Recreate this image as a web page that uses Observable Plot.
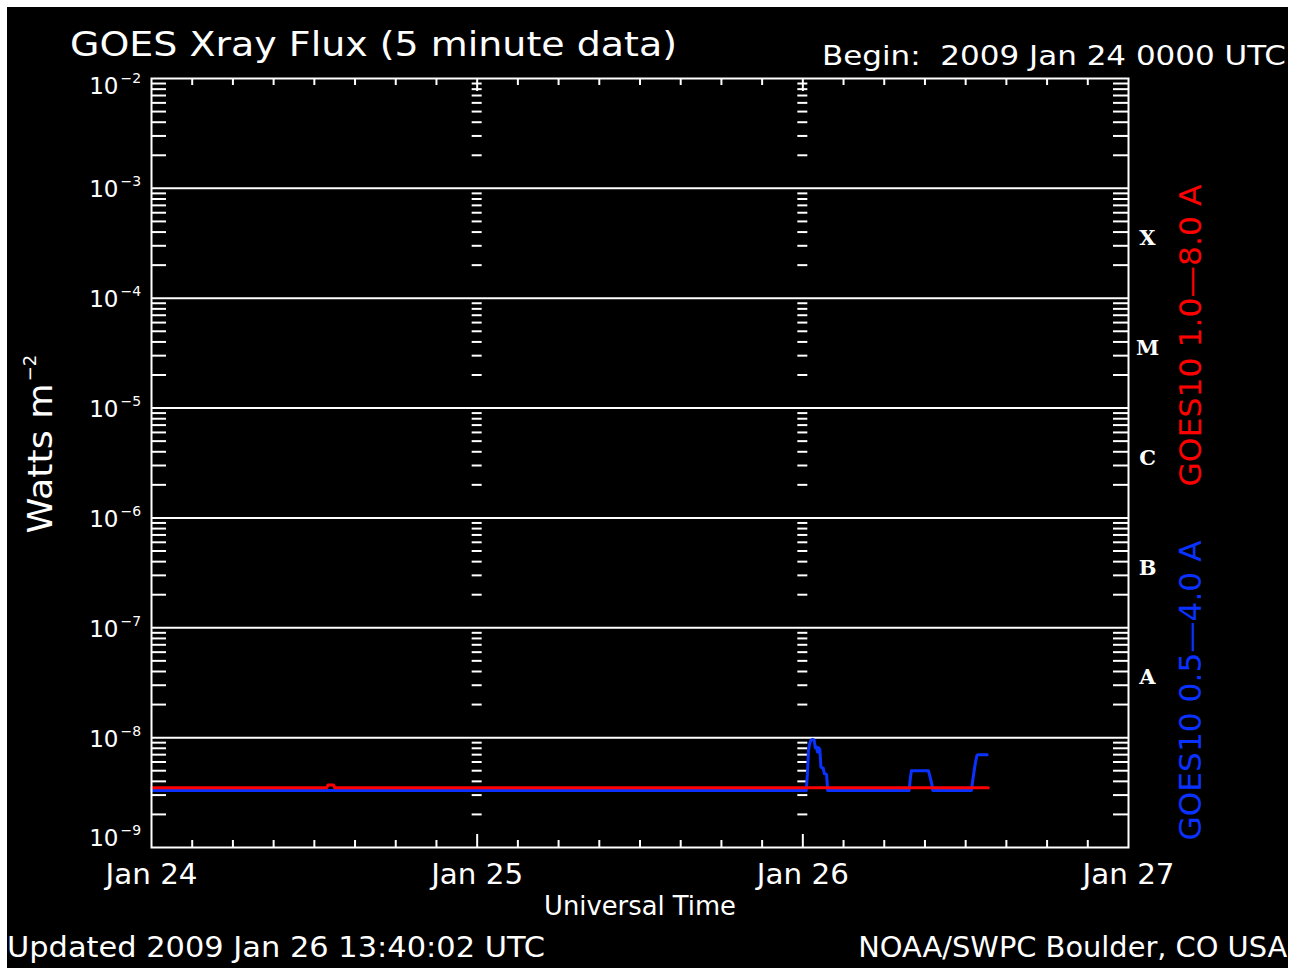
<!DOCTYPE html>
<html><head><meta charset="utf-8">
<script src="https://cdn.jsdelivr.net/npm/d3@7"></script>
<script src="https://cdn.jsdelivr.net/npm/@observablehq/plot@0.6"></script>
<style>
html,body{margin:0;padding:0;background:#fff;}
#page{position:absolute;left:7px;top:7px;width:1281px;height:961px;background:#000;overflow:hidden;font-family:"DejaVu Sans",sans-serif;color:#fff;}
#header{position:relative;height:60px;}
#footer{position:relative;height:43px;}
#chart svg{display:block;}
.t{position:absolute;white-space:pre;line-height:1;display:inline-block;}
</style></head>
<body>
<div id="page">
  <div id="header">
    <span class="t" id="title" style="left:63px;top:20px;font-size:34px;">GOES Xray Flux (5 minute data)</span>
    <span class="t" id="begin" style="left:815px;top:35px;font-size:27px;">Begin:  2009 Jan 24 0000 UTC</span>
  </div>
  <div id="chart"></div>
  <div id="footer">
    <span class="t" id="upd" style="left:0px;top:8px;font-size:29px;">Updated 2009 Jan 26 13:40:02 UTC</span>
    <span class="t" id="org" style="right:1px;top:8px;font-size:29px;">NOAA/SWPC Boulder, CO USA</span>
  </div>
</div>
<script>
// ---- data ----
const dayTicks = ["2009-01-24T00:00Z", "2009-01-25T00:00Z", "2009-01-26T00:00Z", "2009-01-27T00:00Z"];
const dayLabels = ["Jan 24", "Jan 25", "Jan 26", "Jan 27"];
const decades = [1e-9, 1e-8, 1e-7, 1e-6, 1e-5, 1e-4, 1e-3, 1e-2];
const classLetters = ["X", "M", "C", "B", "A"];
const classThresholds = [1e-4, 1e-5, 1e-6, 1e-7, 1e-8];

// GOES10 1.0-8.0 A (red)
const redTimes = ["2009-01-24T00:00Z", "2009-01-24T12:55Z", "2009-01-24T13:00Z", "2009-01-24T13:25Z", "2009-01-24T13:30Z", "2009-01-26T13:40Z"];
const redFlux = [3.5e-9, 3.5e-9, 3.7e-9, 3.7e-9, 3.5e-9, 3.5e-9];

// GOES10 0.5-4.0 A (blue)
const blueTimes = [
  "2009-01-24T00:00Z", "2009-01-26T00:15Z", "2009-01-26T00:20Z", "2009-01-26T00:25Z", "2009-01-26T00:30Z",
  "2009-01-26T00:35Z", "2009-01-26T00:40Z", "2009-01-26T00:45Z", "2009-01-26T00:50Z", "2009-01-26T00:55Z",
  "2009-01-26T01:00Z", "2009-01-26T01:05Z", "2009-01-26T01:10Z", "2009-01-26T01:15Z", "2009-01-26T01:20Z",
  "2009-01-26T01:25Z", "2009-01-26T01:30Z", "2009-01-26T01:35Z", "2009-01-26T01:40Z", "2009-01-26T01:45Z",
  "2009-01-26T01:50Z", "2009-01-26T07:50Z", "2009-01-26T07:55Z", "2009-01-26T08:00Z", "2009-01-26T09:15Z",
  "2009-01-26T09:20Z", "2009-01-26T09:25Z", "2009-01-26T09:30Z", "2009-01-26T09:35Z", "2009-01-26T12:25Z",
  "2009-01-26T12:30Z", "2009-01-26T12:35Z", "2009-01-26T12:40Z", "2009-01-26T12:45Z", "2009-01-26T12:50Z",
  "2009-01-26T12:55Z", "2009-01-26T13:35Z"
];
const blueFlux = [
  3.3e-9, 3.3e-9, 4.6e-9, 7.6e-9, 8.8e-9,
  9.4e-9, 9.6e-9, 9.6e-9, 9.5e-9, 8.1e-9,
  8.2e-9, 7.4e-9, 8.1e-9, 7.8e-9, 5.4e-9,
  5.3e-9, 5.3e-9, 4.7e-9, 4.7e-9, 4.6e-9,
  3.3e-9, 3.3e-9, 4.2e-9, 5.0e-9, 5.0e-9,
  4.6e-9, 4.2e-9, 3.8e-9, 3.3e-9, 3.3e-9,
  3.9e-9, 4.6e-9, 5.4e-9, 6.2e-9, 6.9e-9,
  7.0e-9, 7.0e-9
];

const seriesLabels = ["GOES10 1.0\u20148.0 A", "GOES10 0.5\u20144.0 A"];
const seriesColors = ["#ff0000", "#0a32ff"];

// ---- layout ----
const W = 1281, H = 858;
const mL = 144, mR = 160, mT = 11, mB = 78;
const plotW = W - mL - mR, plotH = H - mT - mB;

const days = dayTicks.map(s => new Date(s));
const innerDays = days.slice(1, 3);
const minorY = decades.slice(0, -1).flatMap(d => d3.range(2, 10).map(k => d * k));
const hourTicks = d3.utcHour.every(3).range(days[0], days[3]).filter(d => d.getUTCHours() !== 0);
const dayDashes = innerDays.flatMap(day => minorY.map(v => ({day, v})));
const red = redTimes.map((t, i) => ({t: new Date(t), v: redFlux[i]}));
const blue = blueTimes.map((t, i) => ({t: new Date(t), v: blueFlux[i]}));
const classes = classLetters.map((c, i) => ({c, y: classThresholds[i] * Math.sqrt(10)}));
const dayLab = days.map((d, i) => ({d, s: dayLabels[i]}));

const wt = {stroke: "white", strokeWidth: 2};

function yLabels(vals, shift) {
  return [
    Plot.text(vals, {y: d => d, text: () => "10", frameAnchor: "left", textAnchor: "end", lineAnchor: "middle", dx: -33, dy: 1.5 + shift, fontSize: 23}),
    Plot.text(vals, {y: d => d, text: d => "\u2212" + Math.round(-Math.log10(d)), frameAnchor: "left", textAnchor: "start", lineAnchor: "middle", dx: -31, dy: -6.5 + shift, fontSize: 14})
  ];
}

const svg = Plot.plot({
  width: W, height: H,
  marginLeft: mL, marginRight: mR, marginTop: mT, marginBottom: mB,
  style: {background: "black", color: "white", fontFamily: "'DejaVu Sans', sans-serif", overflow: "visible"},
  x: {type: "utc", domain: [days[0], days[3]], axis: null},
  y: {type: "log", domain: [1e-9, 1e-2], axis: null},
  marks: [
    Plot.ruleY(decades.slice(1, -1), wt),
    Plot.ruleY(minorY, {...wt, insetRight: plotW - 15}),
    Plot.ruleY(minorY, {...wt, insetLeft: plotW - 15}),
    Plot.ruleY(dayDashes, {...wt, y: "v", x1: "day", x2: "day", insetLeft: -5, insetRight: -5}),
    Plot.ruleX(hourTicks, {...wt, insetTop: plotH - 7}),
    Plot.ruleX(hourTicks, {...wt, insetBottom: plotH - 7}),
    Plot.ruleX(innerDays, {...wt, insetTop: plotH - 13}),
    Plot.ruleX(innerDays, {...wt, insetBottom: plotH - 13}),
    Plot.line(blue, {x: "t", y: "v", stroke: seriesColors[1], strokeWidth: 3}),
    Plot.line(red, {x: "t", y: "v", stroke: seriesColors[0], strokeWidth: 3}),
    Plot.frame({stroke: "white", strokeWidth: 2}),
    // y tick labels 10^n (end labels nudged inside, as in the original)
    ...yLabels(decades.slice(0, 1), -10),
    ...yLabels(decades.slice(1, -1), 0),
    ...yLabels(decades.slice(-1), 7),
    // x tick labels
    Plot.text(dayLab, {x: "d", text: "s", frameAnchor: "bottom", textAnchor: "middle", lineAnchor: "middle", dy: 28, fontSize: 28}),
    Plot.text(["Universal Time"], {text: d => d, frameAnchor: "bottom", textAnchor: "middle", lineAnchor: "middle", dy: 59, fontSize: 26}),
    // y title
    Plot.text(["Watts m"], {text: d => d, frameAnchor: "left", textAnchor: "middle", lineAnchor: "middle", dx: -110, dy: -4.5, rotate: -90, fontSize: 34}),
    Plot.text(["\u22122"], {text: d => d, frameAnchor: "left", textAnchor: "middle", lineAnchor: "middle", dx: -121, dy: -95, rotate: -90, fontSize: 18}),
    // flare classes
    Plot.text(classes, {y: "y", text: "c", frameAnchor: "right", textAnchor: "middle", lineAnchor: "middle", dx: 19, dy: -5, fontSize: 21, fontWeight: "bold", fontFamily: "'DejaVu Serif', serif"}),
    // series labels
    Plot.text([seriesLabels[0]], {text: d => d, frameAnchor: "top-right", textAnchor: "end", lineAnchor: "middle", dx: 63, dy: 106, rotate: -90, fontSize: 30, fill: seriesColors[0]}),
    Plot.text([seriesLabels[1]], {text: d => d, frameAnchor: "bottom-right", textAnchor: "start", lineAnchor: "middle", dx: 63, dy: -7, rotate: -90, fontSize: 30, fill: seriesColors[1]})
  ]
});
document.getElementById("chart").appendChild(svg);

// stretch texts to the widths of the original's vector font
const targetLen = new Map([
  ["Jan 24", 92], ["Jan 25", 92], ["Jan 26", 92], ["Jan 27", 92],
  ["Universal Time", 192], ["Watts m", 150],
  [seriesLabels[0], 302], [seriesLabels[1], 300]
]);
svg.querySelectorAll("text").forEach(t => {
  const len = targetLen.get(t.textContent);
  if (len) {
    t.setAttribute("textLength", len);
    t.setAttribute("lengthAdjust", "spacingAndGlyphs");
  }
});

function fitHtml(id, w, origin) {
  const el = document.getElementById(id);
  const r = el.getBoundingClientRect().width;
  el.style.transformOrigin = origin;
  el.style.transform = `scaleX(${w / r})`;
}
fitHtml("title", 607, "left");
fitHtml("begin", 464, "left");
fitHtml("upd", 538, "left");
fitHtml("org", 429, "right");
</script>
</body></html>
